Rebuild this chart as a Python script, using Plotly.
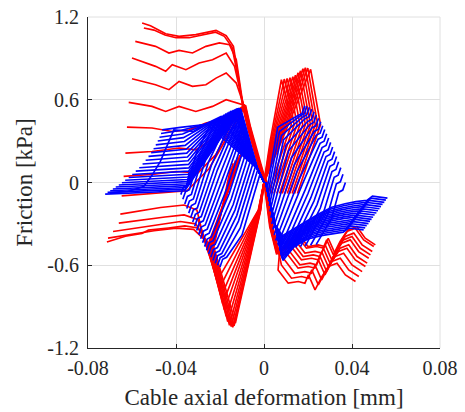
import plotly.graph_objects as go

RED = "#ff0000"
BLUE = "#0000ff"
LW = 1.65

# ---------------- axis ticks ----------------
x_ticks = [-0.08, -0.04, 0.0, 0.04, 0.08]
x_tick_text = ["-0.08", "-0.04", "0", "0.04", "0.08"]
y_ticks = [-1.2, -0.6, 0.0, 0.6, 1.2]
y_tick_text = ["-1.2", "-0.6", "0", "0.6", "1.2"]

# ---------------- RED: upper-left plateau branches ----------------
red_ul_x = [
    [-0.0554, -0.0516, -0.0447, -0.0386, -0.0310, -0.0218, -0.0172, -0.0139, -0.0115],
    [-0.0546, -0.0500, -0.0450, -0.0400, -0.0340, -0.0280, -0.0220, -0.0180, -0.0145, -0.0118],
    [-0.0585, -0.0493, -0.0432, -0.0386, -0.0325, -0.0264, -0.0203, -0.0157, -0.0126],
    [-0.0600, -0.0493, -0.0447, -0.0417, -0.0355, -0.0295, -0.0234, -0.0172, -0.0134],
    [-0.0600, -0.0493, -0.0432, -0.0386, -0.0325, -0.0264, -0.0218, -0.0172, -0.0126],
    [-0.0615, -0.0509, -0.0447, -0.0386, -0.0310, -0.0234, -0.0172, -0.0119],
    [-0.0623, -0.0509, -0.0417, -0.0340, -0.0264, -0.0203, -0.0142],
    [-0.0630, -0.0509, -0.0386, -0.0310, -0.0220, -0.0140],
    [-0.0638, -0.0500, -0.0400, -0.0300, -0.0220, -0.0135],
    [-0.0647, -0.0500, -0.0350, -0.0250, -0.0130],
]
red_ul_y = [
    [1.157, 1.137, 1.079, 1.060, 1.072, 1.103, 1.065, 0.987, 0.750],
    [1.120, 1.105, 1.070, 1.050, 1.050, 1.070, 1.090, 1.060, 0.980, 0.760],
    [1.023, 0.987, 0.939, 0.958, 0.939, 0.987, 1.012, 0.999, 0.890],
    [0.903, 0.842, 0.806, 0.854, 0.818, 0.866, 0.890, 0.939, 0.842],
    [0.752, 0.709, 0.673, 0.733, 0.697, 0.709, 0.757, 0.794, 0.721],
    [0.581, 0.552, 0.515, 0.552, 0.515, 0.552, 0.600, 0.576],
    [0.402, 0.395, 0.370, 0.382, 0.431, 0.455, 0.503],
    [0.213, 0.225, 0.250, 0.237, 0.330, 0.480],
    [0.044, 0.060, 0.080, 0.070, 0.200, 0.460],
    [-0.097, -0.080, -0.060, 0.100, 0.440],
]
red_steep_x = [-0.0098, -0.0075, -0.0045, -0.0015, 0.0, 0.0010, 0.0026, 0.0056]
red_steep_y = [0.56, 0.40, 0.22, 0.06, 0.0, -0.126, -0.320, -0.513]
red_steep_shift = [0.0, 0.0002, 0.0003, 0.0005, 0.0006, 0.0008, 0.0009, 0.0011, 0.0012, 0.0014]
red_lr_x = [0.0064, 0.0110, 0.0156, 0.0186, 0.0202, 0.0232, 0.0263, 0.0293, 0.0332, 0.0370, 0.0416]
red_lr_y = [-0.634, -0.730, -0.718, -0.730, -0.670, -0.778, -0.682, -0.609, -0.585, -0.670, -0.718]
red_lr_dx = [0.0090, 0.0083, 0.0076, 0.0068, 0.0060, 0.0053, 0.0045, 0.0030, 0.0015, 0.0]
red_lr_dy = [0.266, 0.254, 0.218, 0.193, 0.169, 0.133, 0.109, 0.072, 0.036, 0.0]

# ---------------- RED: lower-left plateaus -> bottom spike -> top-right spike ----------------
red_ll_x = [
    [-0.0653, -0.0547, -0.0470, -0.0363, -0.0305],
    [-0.0660, -0.0550, -0.0450, -0.0363, -0.0300],
    [-0.0686, -0.0580, -0.0480, -0.0380, -0.0310],
    [-0.0709, -0.0600, -0.0500, -0.0400, -0.0320],
    [-0.0714, -0.0630, -0.0555, -0.0525, -0.0435, -0.0360, -0.0300],
    [-0.0090], [-0.0100], [-0.0110], [-0.0120], [-0.0130], [-0.0140], [-0.0150],
]
red_ll_y = [
    [-0.229, -0.198, -0.181, -0.163, -0.200],
    [-0.295, -0.270, -0.250, -0.235, -0.270],
    [-0.355, -0.330, -0.305, -0.283, -0.300],
    [-0.403, -0.375, -0.350, -0.331, -0.340],
    [-0.432, -0.390, -0.370, -0.345, -0.330, -0.315, -0.330],
    [0.25], [0.22], [0.20], [0.18], [0.16], [0.14], [0.12],
]
red_leg_x = [-0.0272, -0.0268, -0.0264, -0.0260, -0.0256, -0.0252, -0.0248, -0.0244, -0.0240, -0.0236, -0.0232, -0.0228]
red_leg_y = [-0.416, -0.420, -0.425, -0.430, -0.435, -0.440, -0.445, -0.450, -0.455, -0.460, -0.465, -0.470]
red_bot_tip_x = [-0.0211, -0.0203, -0.0195, -0.0188, -0.0180, -0.0172, -0.0165, -0.0157, -0.0149, -0.0142, -0.0136, -0.0130]
red_bot_tip_y = [-0.706, -0.770, -0.827, -0.880, -0.924, -0.970, -1.009, -1.035, -1.045, -1.050, -1.040, -1.020]
red_conv_x = [-0.0026, -0.0025, -0.0024, -0.0023, -0.0022, -0.0021, -0.0020, -0.0019, -0.0018, -0.0017, -0.0016, -0.0015]
red_conv_y = -0.20
red_up_xa = [0.0028, 0.0032, 0.0036, 0.0040, 0.0045, 0.0050, 0.0055, 0.0060, 0.0065, 0.0070, 0.0075, 0.0080]
red_top_tip_x = [0.0079, 0.0092, 0.0105, 0.0118, 0.0131, 0.0143, 0.0155, 0.0166, 0.0177, 0.0188, 0.0199, 0.0212]
red_top_tip_y = [0.745, 0.750, 0.755, 0.760, 0.767, 0.778, 0.795, 0.810, 0.825, 0.832, 0.830, 0.820]

# ---------------- BLUE: left plateaus ----------------
blue_lp_xs = [-0.0722, -0.0711, -0.0699, -0.0687, -0.0674, -0.0660, -0.0646, -0.0631, -0.0615, -0.0599, -0.0583,
              -0.0567, -0.0552, -0.0538, -0.0525, -0.0513, -0.0502, -0.0492, -0.0483, -0.0475, -0.0468, -0.0463]
blue_lp_ys = [-0.084, -0.072, -0.060, -0.047, -0.033, -0.018, -0.002, 0.016, 0.036, 0.058, 0.082,
              0.107, 0.134, 0.161, 0.189, 0.217, 0.245, 0.273, 0.301, 0.328, 0.355, 0.382]
blue_lp_xm = [-0.0560, -0.0553, -0.0546, -0.0539, -0.0531, -0.0523, -0.0515, -0.0507, -0.0499, -0.0491, -0.0483,
              -0.0475, -0.0467, -0.0459, -0.0452, -0.0445, -0.0438, -0.0432, -0.0426, -0.0421, -0.0416, -0.0412]
blue_lp_ym = [-0.072, -0.060, -0.048, -0.035, -0.021, -0.006, 0.010, 0.028, 0.048, 0.070, 0.094,
              0.119, 0.146, 0.173, 0.201, 0.229, 0.257, 0.285, 0.313, 0.340, 0.367, 0.394]
blue_lp_xj = [-0.0360, -0.0358, -0.0356, -0.0354, -0.0352, -0.0350, -0.0348, -0.0346, -0.0344, -0.0343, -0.0342,
              -0.0343, -0.0345, -0.0348, -0.0351, -0.0354, -0.0358, -0.0362, -0.0366, -0.0370, -0.0375, -0.0380]
blue_lp_yj = [-0.060, -0.048, -0.036, -0.023, -0.009, 0.006, 0.022, 0.040, 0.060, 0.082, 0.106,
              0.131, 0.158, 0.185, 0.213, 0.241, 0.269, 0.297, 0.325, 0.352, 0.379, 0.400]
blue_lp_xp = [-0.0106, -0.0109, -0.0112, -0.0115, -0.0119, -0.0123, -0.0128, -0.0133, -0.0139, -0.0145, -0.0152,
              -0.0159, -0.0167, -0.0175, -0.0184, -0.0193, -0.0203, -0.0213, -0.0224, -0.0235, -0.0247, -0.0260]
blue_lp_yp = [0.535, 0.537, 0.538, 0.538, 0.537, 0.535, 0.532, 0.528, 0.524, 0.519, 0.513,
              0.507, 0.500, 0.493, 0.485, 0.477, 0.469, 0.460, 0.451, 0.442, 0.432, 0.422]
blue_tail_x = [-0.0030, 0.0]
blue_tail_y = [0.10, 0.0]
blue_first_x = [-0.0700, -0.0620, -0.0547, -0.0510, -0.0471, -0.0425, -0.0410, -0.0360, -0.0320, -0.0272, -0.0196]
blue_first_y = [-0.075, -0.065, -0.030, 0.050, 0.153, 0.322, 0.382, 0.375, 0.370, 0.419, 0.479]

# ---------------- BLUE: left fan ----------------
blue_lf_xe = [-0.0200, -0.0211, -0.0222, -0.0232, -0.0242, -0.0252, -0.0261, -0.0270, -0.0279, -0.0288,
              -0.0297, -0.0306, -0.0315, -0.0324, -0.0333, -0.0342, -0.0351, -0.0360, -0.0369, -0.0378]
blue_lf_ye = [-0.612, -0.600, -0.585, -0.565, -0.542, -0.518, -0.492, -0.465, -0.437, -0.408,
              -0.378, -0.348, -0.317, -0.286, -0.254, -0.222, -0.189, -0.156, -0.122, -0.088]
blue_lf_xm = [-0.0100, -0.0108, -0.0116, -0.0124, -0.0132, -0.0140, -0.0149, -0.0158, -0.0168, -0.0178,
              -0.0189, -0.0200, -0.0212, -0.0224, -0.0238, -0.0252, -0.0266, -0.0280, -0.0294, -0.0308]
blue_lf_ym = [-0.380, -0.330, -0.280, -0.240, -0.200, -0.160, -0.120, -0.080, -0.040, 0.000,
              0.030, 0.060, 0.090, 0.110, 0.130, 0.150, 0.165, 0.180, 0.195, 0.210]
blue_lf_xt = [-0.0020, -0.0029, -0.0036, -0.0044, -0.0051, -0.0059, -0.0066, -0.0073, -0.0080, -0.0086,
              -0.0090, -0.0096, -0.0106, -0.0120, -0.0138, -0.0157, -0.0177, -0.0197, -0.0217, -0.0238]
blue_lf_yt = [0.050, 0.090, 0.130, 0.170, 0.210, 0.255, 0.300, 0.340, 0.380, 0.420,
              0.450, 0.480, 0.490, 0.485, 0.480, 0.470, 0.460, 0.455, 0.450, 0.440]

# ---------------- BLUE: right fan ----------------
blue_rf_xb = [0.0014, 0.0017, 0.0021, 0.0024, 0.0027, 0.0031, 0.0035, 0.0040, 0.0046, 0.0053,
              0.0062, 0.0075, 0.0090, 0.0107, 0.0125, 0.0145, 0.0166, 0.0188, 0.0212, 0.0237]
blue_rf_yb = [-0.050, -0.090, -0.130, -0.170, -0.210, -0.255, -0.300, -0.340, -0.380, -0.420,
              -0.450, -0.470, -0.480, -0.480, -0.475, -0.470, -0.465, -0.460, -0.455, -0.450]
blue_rf_xm = [0.0062, 0.0070, 0.0079, 0.0089, 0.0100, 0.0112, 0.0125, 0.0138, 0.0150, 0.0162,
              0.0175, 0.0188, 0.0200, 0.0213, 0.0227, 0.0241, 0.0256, 0.0272, 0.0289, 0.0307]
blue_rf_ym = [0.400, 0.370, 0.340, 0.310, 0.270, 0.230, 0.180, 0.130, 0.080, 0.030,
              -0.010, -0.050, -0.080, -0.110, -0.135, -0.160, -0.185, -0.210, -0.235, -0.260]
blue_rf_xe = [0.0185, 0.0195, 0.0206, 0.0217, 0.0228, 0.0238, 0.0248, 0.0258, 0.0267, 0.0276,
              0.0285, 0.0294, 0.0303, 0.0312, 0.0321, 0.0330, 0.0339, 0.0349, 0.0359, 0.0370]
blue_rf_ye = [0.556, 0.553, 0.545, 0.532, 0.512, 0.490, 0.466, 0.440, 0.412, 0.384,
              0.354, 0.323, 0.291, 0.258, 0.224, 0.188, 0.150, 0.108, 0.060, 0.000]
fan_jag_dx = [-0.0030, -0.0012, 0.0]
fan_jag_dy = [-0.070, -0.055, 0.0]

# ---------------- BLUE: right plateaus ----------------
blue_rp_xb = [0.0086, 0.0084, 0.0082, 0.0080, 0.0079, 0.0078, 0.0077, 0.0077,
              0.0077, 0.0078, 0.0079, 0.0080, 0.0081, 0.0082, 0.0083, 0.0084]
blue_rp_yb = [-0.565, -0.553, -0.541, -0.529, -0.517, -0.505, -0.493, -0.481,
              -0.469, -0.457, -0.445, -0.433, -0.421, -0.409, -0.397, -0.385]
blue_rp_x = [0.0140, 0.0200, 0.0260, 0.0310, 0.0360, 0.0385, 0.0410, 0.0453]
blue_rp_y = [-0.460, -0.410, -0.385, -0.370, -0.360, -0.330, -0.335, -0.344]
blue_rp_dx = [0.0, 0.0007, 0.0014, 0.0022, 0.0029, 0.0036, 0.0043, 0.0050,
              0.0058, 0.0065, 0.0072, 0.0079, 0.0086, 0.0094, 0.0101, 0.0108]
blue_rp_dy = [0.0, 0.015, 0.031, 0.046, 0.062, 0.077, 0.092, 0.108,
              0.123, 0.139, 0.154, 0.169, 0.185, 0.200, 0.216, 0.231]
blue_rp_head_x = [0.0008, 0.0048]
blue_rp_head_y = [0.0, -0.300]

fig = go.Figure()


def add_line(xs, ys, color):
    fig.add_trace(go.Scatter(x=xs, y=ys, mode="lines",
                             line=dict(color=color, width=LW),
                             hoverinfo="skip", showlegend=False))


for i in range(len(red_ul_x)):
    xs = list(red_ul_x[i]) + [v + red_steep_shift[i] for v in red_steep_x]
    ys = list(red_ul_y[i]) + list(red_steep_y)
    xs += [v + red_lr_dx[i] for v in red_lr_x]
    ys += [v + red_lr_dy[i] for v in red_lr_y]
    add_line(xs, ys, RED)

for k in range(len(red_ll_x)):
    xs = list(red_ll_x[k]) + [red_leg_x[k], red_bot_tip_x[k], red_conv_x[k], 0.0,
                               red_up_xa[k], red_top_tip_x[k],
                               red_top_tip_x[k] + 0.0025, red_top_tip_x[k] + 0.0045,
                               red_top_tip_x[k] - 0.0060]
    ys = list(red_ll_y[k]) + [red_leg_y[k], red_bot_tip_y[k], red_conv_y, 0.0,
                               0.30, red_top_tip_y[k], 0.60, 0.42, -0.08]
    add_line(xs, ys, RED)

for i in range(len(blue_lp_xs)):
    xs = [blue_lp_xs[i], blue_lp_xm[i], blue_lp_xj[i], blue_lp_xp[i]] + blue_tail_x
    ys = [blue_lp_ys[i], blue_lp_ym[i], blue_lp_yj[i], blue_lp_yp[i]] + blue_tail_y
    add_line(xs, ys, BLUE)
add_line(blue_first_x + blue_tail_x, blue_first_y + blue_tail_y, BLUE)

for k in range(len(blue_lf_xe)):
    xs = [blue_lf_xt[k], blue_lf_xm[k]] + [blue_lf_xe[k] - d for d in fan_jag_dx]
    ys = [blue_lf_yt[k], blue_lf_ym[k]] + [blue_lf_ye[k] - d for d in fan_jag_dy]
    add_line(xs, ys, BLUE)

for k in range(len(blue_rf_xe)):
    xs = [blue_rf_xb[k], blue_rf_xm[k]] + [blue_rf_xe[k] + d for d in fan_jag_dx]
    ys = [blue_rf_yb[k], blue_rf_ym[k]] + [blue_rf_ye[k] + d for d in fan_jag_dy]
    add_line(xs, ys, BLUE)

for j in range(len(blue_rp_xb)):
    xs = blue_rp_head_x + [blue_rp_xb[j]] + [v + blue_rp_dx[j] for v in blue_rp_x]
    ys = blue_rp_head_y + [blue_rp_yb[j]] + [v + blue_rp_dy[j] for v in blue_rp_y]
    add_line(xs, ys, BLUE)

FONT = "Liberation Serif"
TXT = "#262626"
GRID = "#e0e0e0"

fig.update_layout(
    width=465, height=412,
    margin=dict(l=88, r=25, t=17, b=64),
    plot_bgcolor="white", paper_bgcolor="white",
    showlegend=False,
    shapes=[
        dict(type="line", xref="paper", yref="paper", x0=0, x1=1, y0=1, y1=1,
             line=dict(color=GRID, width=1), layer="below"),
        dict(type="line", xref="paper", yref="paper", x0=1, x1=1, y0=0, y1=1,
             line=dict(color=GRID, width=1), layer="below"),
    ],
)
fig.update_xaxes(
    range=[-0.08, 0.08], tickvals=x_ticks, ticktext=x_tick_text, automargin=False,
    showgrid=True, gridcolor=GRID, gridwidth=1, zeroline=False,
    showline=True, linecolor=TXT, linewidth=1,
    ticks="inside", ticklen=4, tickcolor=TXT, ticklabelstandoff=2,
    ticklabeloverflow="allow",
    tickfont=dict(family=FONT, size=20, color=TXT),
    title=dict(text="Cable axial deformation [mm]", standoff=10,
               font=dict(family=FONT, size=23, color=TXT)),
)
fig.update_yaxes(
    range=[-1.2, 1.2], tickvals=y_ticks, ticktext=y_tick_text, automargin=False,
    showgrid=True, gridcolor=GRID, gridwidth=1, zeroline=False,
    showline=True, linecolor=TXT, linewidth=1,
    ticks="inside", ticklen=4, tickcolor=TXT, ticklabelstandoff=4,
    ticklabeloverflow="allow",
    tickfont=dict(family=FONT, size=20, color=TXT),
    title=dict(text="Friction [kPa]", standoff=8,
               font=dict(family=FONT, size=23, color=TXT)),
)

# remove the browser's default 8px body margin so the figure sits at the page origin
fig.write_html("out.html",
               config={"displayModeBar": False, "staticPlot": True},
               post_script="document.body.style.margin='0px';document.body.style.padding='0px';")
